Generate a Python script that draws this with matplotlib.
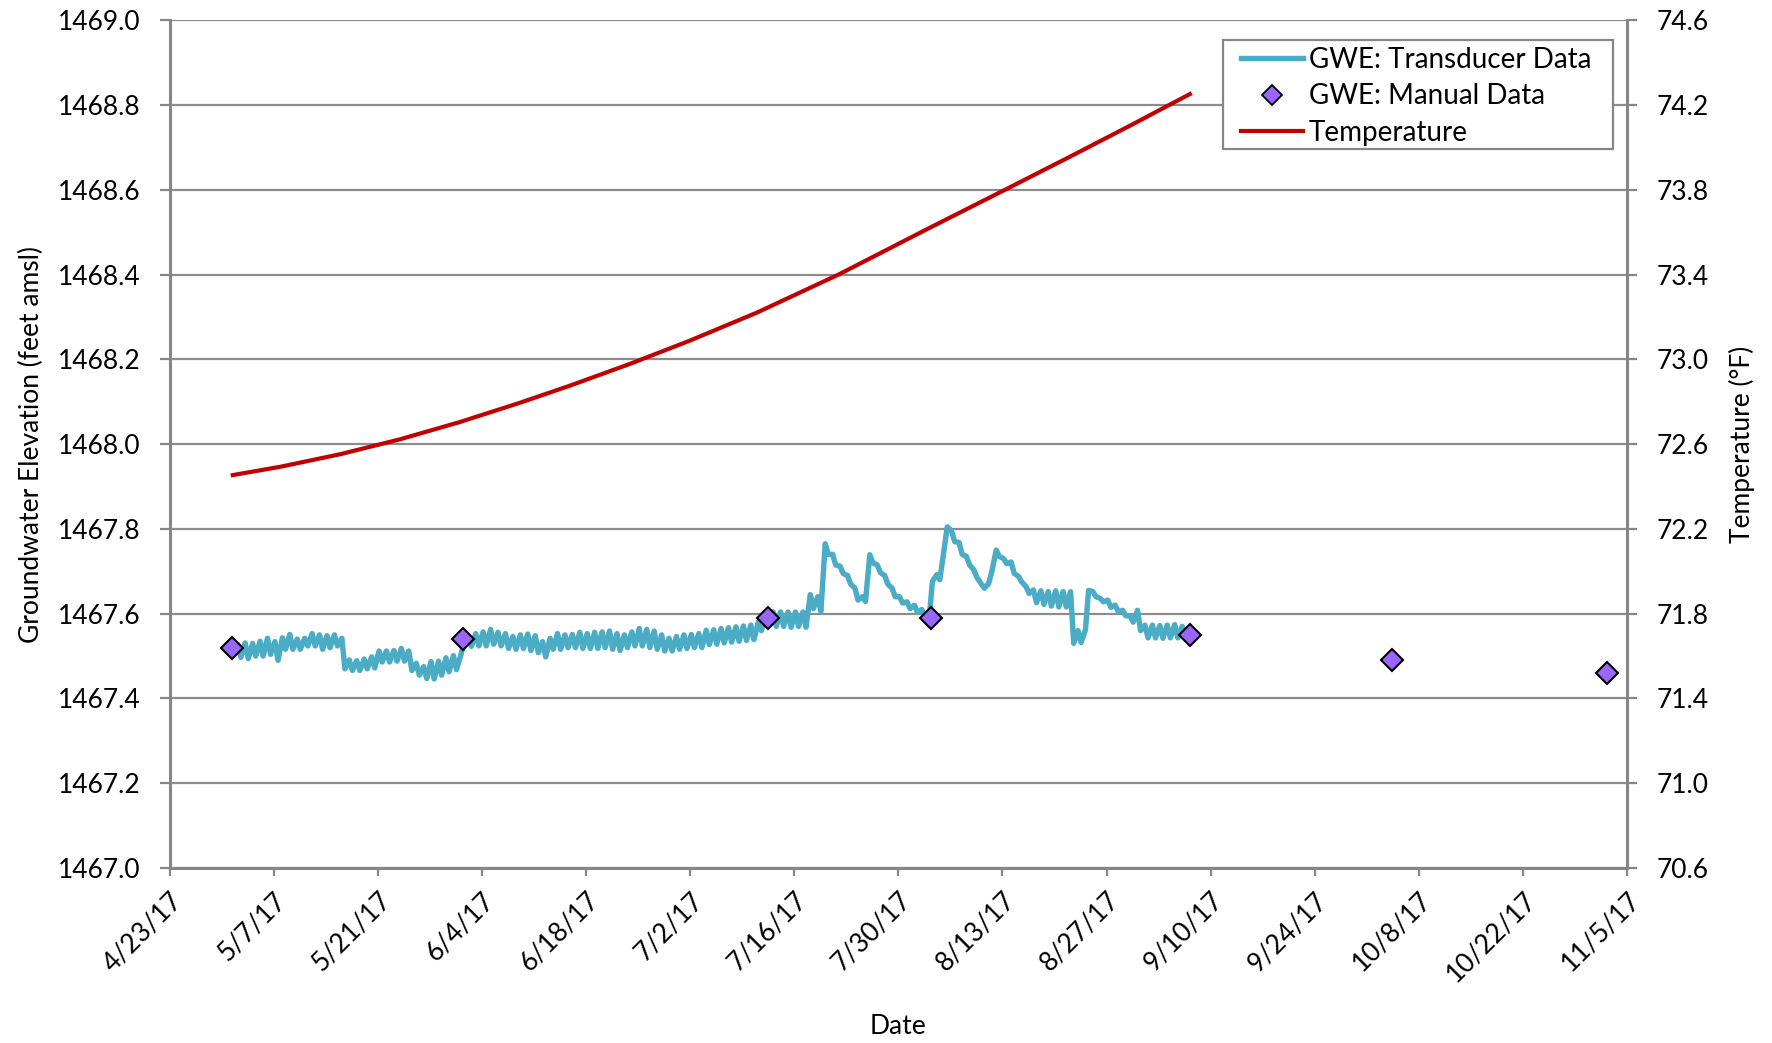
import numpy as np
import pandas as pd
import matplotlib
matplotlib.use('Agg')
import matplotlib.pyplot as plt
from matplotlib.lines import Line2D
from matplotlib.patches import Rectangle

plt.rcParams['font.family'] = ['Lato', 'DejaVu Sans']

# ---------------- data ----------------
# Transducer groundwater elevation: two readings per day (early / late), from 5/2/17
trace_start = '2017-05-02'
gwe_am = [
    1467.525, 1467.531, 1467.530, 1467.535, 1467.542, 1467.534, 1467.543, 1467.551, 1467.540, 1467.542,  # 5/2-5/11
    1467.553, 1467.550, 1467.548, 1467.550, 1467.542, 1467.491, 1467.489, 1467.493, 1467.498, 1467.512,  # 5/12-5/21
    1467.512, 1467.513, 1467.518, 1467.512, 1467.483, 1467.475, 1467.487, 1467.488, 1467.496, 1467.501,  # 5/22-5/31
    1467.502, 1467.548, 1467.553, 1467.557, 1467.563, 1467.556, 1467.553, 1467.546, 1467.550, 1467.552,  # 6/1-6/10
    1467.548, 1467.534, 1467.542, 1467.553, 1467.550, 1467.551, 1467.556, 1467.553, 1467.556, 1467.557,  # 6/11-6/20
    1467.559, 1467.553, 1467.550, 1467.557, 1467.565, 1467.563, 1467.559, 1467.550, 1467.542, 1467.546,  # 6/21-6/30
    1467.550, 1467.551, 1467.553, 1467.561, 1467.562, 1467.565, 1467.567, 1467.569, 1467.571, 1467.573,  # 7/1-7/10
    1467.580, 1467.595, 1467.604, 1467.604, 1467.604, 1467.604, 1467.604, 1467.645, 1467.640, 1467.765,  # 7/11-7/20
    1467.740, 1467.712, 1467.690, 1467.660, 1467.640, 1467.739, 1467.715, 1467.690, 1467.660, 1467.640,  # 7/21-7/30
    1467.628, 1467.620, 1467.610, 1467.592, 1467.692, 1467.752, 1467.795, 1467.768, 1467.735, 1467.703,  # 7/31-8/9
    1467.670, 1467.672, 1467.750, 1467.730, 1467.722, 1467.688, 1467.664, 1467.656, 1467.654, 1467.652,  # 8/10-8/19
    1467.654, 1467.652, 1467.652, 1467.560, 1467.562, 1467.652, 1467.636, 1467.632, 1467.620, 1467.608,  # 8/20-8/29
    1467.595, 1467.608, 1467.573, 1467.573, 1467.572, 1467.573, 1467.574, 1467.570, 1467.560,            # 8/30-9/7
]
gwe_pm = [
    1467.497, 1467.494, 1467.500, 1467.500, 1467.504, 1467.490, 1467.516, 1467.516, 1467.516, 1467.524,
    1467.524, 1467.516, 1467.520, 1467.524, 1467.470, 1467.466, 1467.466, 1467.470, 1467.472, 1467.486,
    1467.486, 1467.488, 1467.488, 1467.466, 1467.455, 1467.447, 1467.446, 1467.455, 1467.463, 1467.468,
    1467.530, 1467.523, 1467.524, 1467.524, 1467.528, 1467.524, 1467.518, 1467.516, 1467.518, 1467.513,
    1467.508, 1467.498, 1467.516, 1467.516, 1467.520, 1467.520, 1467.518, 1467.518, 1467.518, 1467.520,
    1467.516, 1467.513, 1467.520, 1467.524, 1467.524, 1467.520, 1467.516, 1467.512, 1467.512, 1467.516,
    1467.518, 1467.520, 1467.520, 1467.527, 1467.528, 1467.531, 1467.533, 1467.535, 1467.537, 1467.539,
    1467.560, 1467.580, 1467.570, 1467.570, 1467.568, 1467.570, 1467.568, 1467.612, 1467.605, 1467.740,
    1467.715, 1467.695, 1467.670, 1467.632, 1467.629, 1467.720, 1467.697, 1467.670, 1467.640, 1467.625,
    1467.612, 1467.603, 1467.592, 1467.676, 1467.680, 1467.805, 1467.770, 1467.740, 1467.715, 1467.685,
    1467.660, 1467.700, 1467.735, 1467.718, 1467.695, 1467.675, 1467.648, 1467.626, 1467.622, 1467.618,
    1467.616, 1467.616, 1467.530, 1467.532, 1467.655, 1467.640, 1467.628, 1467.615, 1467.605, 1467.595,
    1467.580, 1467.560, 1467.543, 1467.543, 1467.542, 1467.543, 1467.543, 1467.545, 1467.550,
]

# Manual groundwater elevation measurements
manual_dates = ['2017-05-01 11:00', '2017-06-01 10:00', '2017-07-12 10:00', '2017-08-03 10:00',
                '2017-09-07 05:00', '2017-10-04 10:00', '2017-11-02 07:00']
manual_gwe = [1467.52, 1467.54, 1467.59, 1467.59, 1467.55, 1467.49, 1467.46]

# Temperature (deg F)
temp_dates = ['2017-05-01 12:00', '2017-05-08 00:00', '2017-05-16 00:00', '2017-05-24 00:00',
              '2017-06-01 00:00', '2017-06-09 00:00', '2017-06-16 00:00', '2017-06-24 00:00',
              '2017-07-02 00:00', '2017-07-11 00:00', '2017-07-22 00:00', '2017-08-03 00:00',
              '2017-08-14 00:00', '2017-08-22 00:00', '2017-08-30 00:00', '2017-09-07 05:00']
temp_f = [72.454, 72.494, 72.553, 72.623, 72.704, 72.794, 72.878, 72.980, 73.089, 73.221, 73.401,
          73.617, 73.812, 73.955, 74.100, 74.252]

tick_dates = ['2017-04-23', '2017-05-07', '2017-05-21', '2017-06-04', '2017-06-18', '2017-07-02',
              '2017-07-16', '2017-07-30', '2017-08-13', '2017-08-27', '2017-09-10', '2017-09-24',
              '2017-10-08', '2017-10-22', '2017-11-05']
tick_labels = ['4/23/17', '5/7/17', '5/21/17', '6/4/17', '6/18/17', '7/2/17', '7/16/17', '7/30/17',
               '8/13/17', '8/27/17', '9/10/17', '9/24/17', '10/8/17', '10/22/17', '11/5/17']
gwe_ticks = [1467.0, 1467.2, 1467.4, 1467.6, 1467.8, 1468.0, 1468.2, 1468.4, 1468.6, 1468.8, 1469.0]
temp_ticks = [70.6, 71.0, 71.4, 71.8, 72.2, 72.6, 73.0, 73.4, 73.8, 74.2, 74.6]

# ---------------- build series ----------------
days = pd.date_range(trace_start, periods=len(gwe_am), freq='D')
t_am = days + pd.Timedelta(hours=4)
t_pm = days + pd.Timedelta(hours=14)
trace_t = np.empty(2 * len(days), dtype='datetime64[ns]')
trace_t[0::2] = t_am.values
trace_t[1::2] = t_pm.values
trace_v = np.empty(2 * len(days))
trace_v[0::2] = gwe_am
trace_v[1::2] = gwe_pm

# ---------------- figure ----------------
FS = 19
GRAY = '#868686'
BLUE = '#4BACC6'
RED = '#C00000'
PURPLE = '#9966FF'
fig = plt.figure(figsize=(17.72, 10.43), dpi=100)
ax = fig.add_axes([0.0957, 0.1678, 0.8225, 0.8127])
ax2 = ax.twinx()

ax.plot(trace_t, trace_v, color=BLUE, lw=3.9, zorder=3, solid_joinstyle='round')
ax.plot(pd.to_datetime(manual_dates, format='ISO8601'), manual_gwe, linestyle='none', marker='D', ms=11,
        markerfacecolor=PURPLE, markeredgecolor='black', markeredgewidth=1.5, zorder=4)
ax2.plot(pd.to_datetime(temp_dates, format='ISO8601'), temp_f, color=RED, lw=3.0, zorder=3,
         solid_joinstyle='round')

ax.set_xlim(pd.Timestamp(tick_dates[0]), pd.Timestamp(tick_dates[-1]))
ax.set_ylim(1467.0, 1469.0)
ax2.set_ylim(70.6, 74.6)
ax.set_yticks(gwe_ticks)
ax.set_yticklabels([f'{v:.1f}' for v in gwe_ticks])
ax2.set_yticks(temp_ticks)
ax2.set_yticklabels([f'{v:.1f}' for v in temp_ticks])
ax.set_xticks(pd.to_datetime(tick_dates, format='ISO8601'))
ax.set_xticklabels(tick_labels, rotation=45, ha='right', va='top', rotation_mode='anchor')

ax.yaxis.grid(True, color='#8c8c8c', lw=1.6, zorder=0)
ax.set_axisbelow(True)

for a in (ax, ax2):
    a.spines['top'].set_visible(False)
    for s in ('left', 'right', 'bottom'):
        a.spines[s].set_color(GRAY)
        a.spines[s].set_linewidth(2.2)
ax.spines['right'].set_visible(False)
ax2.spines['left'].set_visible(False)
ax2.spines['bottom'].set_visible(False)

ax.tick_params(axis='y', direction='out', length=7, width=1.6, color=GRAY, labelsize=FS, pad=14)
ax.tick_params(axis='x', direction='out', length=6, width=1.6, color=GRAY, labelsize=FS, pad=8)
ax2.tick_params(axis='y', direction='out', length=7, width=1.6, color=GRAY, labelsize=FS, pad=14)

ax.set_ylabel('Groundwater Elevation (feet amsl)', fontsize=FS)
ax.yaxis.set_label_coords(-0.086, 0.5)
ax2.set_ylabel('Temperature (°F)', fontsize=FS)
ax2.yaxis.set_label_coords(1.070, 0.5)
ax.set_xlabel('Date', fontsize=FS)
ax.xaxis.set_label_coords(0.5, -0.172)

# legend box (frame drawn separately for wider side padding)
ax2.add_patch(Rectangle((0.7228, 0.8482), 0.2676, 0.1286, transform=ax2.transAxes,
                        facecolor='white', edgecolor=GRAY, lw=1.6, zorder=9))
handles = [Line2D([], [], color=BLUE, lw=3.9),
           Line2D([], [], linestyle='none', marker='D', ms=10, markerfacecolor=PURPLE,
                  markeredgecolor='black', markeredgewidth=1.3),
           Line2D([], [], color=RED, lw=3.0)]
labels = ['GWE: Transducer Data', 'GWE: Manual Data', 'Temperature']
leg = ax2.legend(handles, labels, loc='upper right', bbox_to_anchor=(0.9795, 0.9760),
                 fontsize=20, frameon=False, handlelength=2.25, handletextpad=0.2,
                 labelspacing=0.38, borderpad=0.22, borderaxespad=0.0)
leg.set_zorder(10)

fig.savefig('out.png', dpi=100)
